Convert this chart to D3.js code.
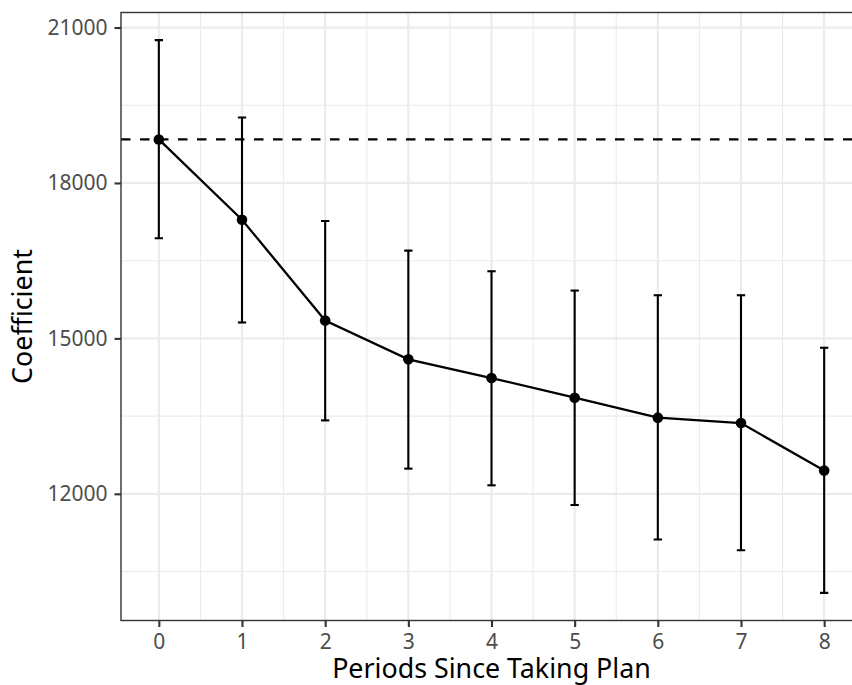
<!DOCTYPE html>
<html>
<head>
<meta charset="utf-8">
<script src="https://cdn.jsdelivr.net/npm/d3@7"></script>
<style>
  html, body { margin: 0; padding: 0; background: #fff; }
  svg { display: block; }
  text { font-family: "Noto Sans", "Open Sans", sans-serif; }
</style>
</head>
<body>
<svg id="chart" width="852" height="685"></svg>
<script>
// ---- data ----
const periods = [0, 1, 2, 3, 4, 5, 6, 7, 8];
const coefficient = [18840, 17290, 15345, 14595, 14235, 13855, 13470, 13365, 12450];
const upper = [20757, 19265, 17267, 16695, 16296, 15923, 15833, 15833, 14819];
const lower = [16932, 15307, 13417, 12486, 12164, 11784, 11117, 10911, 10088];
const baseline = 18840;
const xTicks = [0, 1, 2, 3, 4, 5, 6, 7, 8];
const yTicks = [12000, 15000, 18000, 21000];
const yMinor = [10500, 13500, 16500, 19500];
const xMinor = [0.5, 1.5, 2.5, 3.5, 4.5, 5.5, 6.5, 7.5];
const xLabel = "Periods Since Taking Plan";
const yLabel = "Coefficient";

// ---- layout ----
const panel = { left: 121, right: 862, top: 12.5, bottom: 620.5 };
const capHalf = 0.05;

const xMinD = d3.min(periods) - capHalf, xMaxD = d3.max(periods) + capHalf;
const xPad = (xMaxD - xMinD) * 0.05;
const x = d3.scaleLinear().domain([xMinD - xPad, xMaxD + xPad]).range([panel.left, panel.right]);

const yMinD = d3.min(lower), yMaxD = d3.max(upper);
const yPad = (yMaxD - yMinD) * 0.05;
const y = d3.scaleLinear().domain([yMinD - yPad, yMaxD + yPad]).range([panel.bottom, panel.top]);

const svg = d3.select("#chart");
const pw = panel.right - panel.left, ph = panel.bottom - panel.top;

svg.append("defs").append("clipPath").attr("id", "clip")
  .append("rect").attr("x", panel.left).attr("y", panel.top).attr("width", pw).attr("height", ph);

const grid = svg.append("g");
// minor grid
grid.selectAll(".ymin").data(yMinor).join("line")
  .attr("x1", panel.left).attr("x2", panel.right)
  .attr("y1", d => y(d)).attr("y2", d => y(d))
  .attr("stroke", "#EBEBEB").attr("stroke-width", 1.1);
grid.selectAll(".xmin").data(xMinor).join("line")
  .attr("y1", panel.top).attr("y2", panel.bottom)
  .attr("x1", d => x(d)).attr("x2", d => x(d))
  .attr("stroke", "#EBEBEB").attr("stroke-width", 1.1);
// major grid
grid.selectAll(".ymaj").data(yTicks).join("line")
  .attr("x1", panel.left).attr("x2", panel.right)
  .attr("y1", d => y(d)).attr("y2", d => y(d))
  .attr("stroke", "#EBEBEB").attr("stroke-width", 2.2);
grid.selectAll(".xmaj").data(xTicks).join("line")
  .attr("y1", panel.top).attr("y2", panel.bottom)
  .attr("x1", d => x(d)).attr("x2", d => x(d))
  .attr("stroke", "#EBEBEB").attr("stroke-width", 2.2);

const plot = svg.append("g").attr("clip-path", "url(#clip)");

// dashed baseline
plot.append("line")
  .attr("x1", panel.left).attr("x2", panel.right)
  .attr("y1", y(baseline)).attr("y2", y(baseline))
  .attr("stroke", "#000").attr("stroke-width", 2.2)
  .attr("stroke-dasharray", "9.5,9.5");

// error bars
const eb = plot.append("g").attr("stroke", "#000").attr("stroke-width", 2.1).attr("fill", "none");
periods.forEach((p, i) => {
  eb.append("line").attr("x1", x(p)).attr("x2", x(p)).attr("y1", y(lower[i])).attr("y2", y(upper[i]));
  eb.append("line").attr("x1", x(p - capHalf)).attr("x2", x(p + capHalf)).attr("y1", y(lower[i])).attr("y2", y(lower[i]));
  eb.append("line").attr("x1", x(p - capHalf)).attr("x2", x(p + capHalf)).attr("y1", y(upper[i])).attr("y2", y(upper[i]));
});

// line
const pts = periods.map((p, i) => [p, coefficient[i]]);
plot.append("path")
  .attr("d", d3.line().x(d => x(d[0])).y(d => y(d[1]))(pts))
  .attr("fill", "none").attr("stroke", "#000").attr("stroke-width", 2.3);

// points
plot.selectAll("circle").data(pts).join("circle")
  .attr("cx", d => x(d[0])).attr("cy", d => y(d[1])).attr("r", 5.3).attr("fill", "#000");

// panel border
svg.append("rect")
  .attr("x", panel.left).attr("y", panel.top).attr("width", pw).attr("height", ph)
  .attr("fill", "none").attr("stroke", "#333333").attr("stroke-width", 1.4);

// axes
const yAxis = svg.append("g").attr("transform", `translate(${panel.left},0)`)
  .call(d3.axisLeft(y).tickValues(yTicks).tickSize(6.5).tickPadding(7).tickFormat(d3.format("d")));
const xAxis = svg.append("g").attr("transform", `translate(0,${panel.bottom})`)
  .call(d3.axisBottom(x).tickValues(xTicks).tickSize(6.5).tickPadding(7).tickFormat(d3.format("d")));
[yAxis, xAxis].forEach(a => {
  a.select(".domain").remove();
  a.selectAll(".tick line").attr("stroke", "#333333").attr("stroke-width", 2.1);
  a.selectAll(".tick text").attr("fill", "#4D4D4D").style("font-size", "21px")
    .style("font-family", '"Noto Sans", "Open Sans", sans-serif');
});

// axis titles
svg.append("text")
  .attr("x", (panel.left + panel.right) / 2).attr("y", 678)
  .attr("text-anchor", "middle").attr("fill", "#000").style("font-size", "26.8px")
  .text(xLabel);
svg.append("text")
  .attr("transform", `translate(32,${(panel.top + panel.bottom) / 2}) rotate(-90)`)
  .attr("text-anchor", "middle").attr("fill", "#000").style("font-size", "26.8px")
  .text(yLabel);
</script>
</body>
</html>
